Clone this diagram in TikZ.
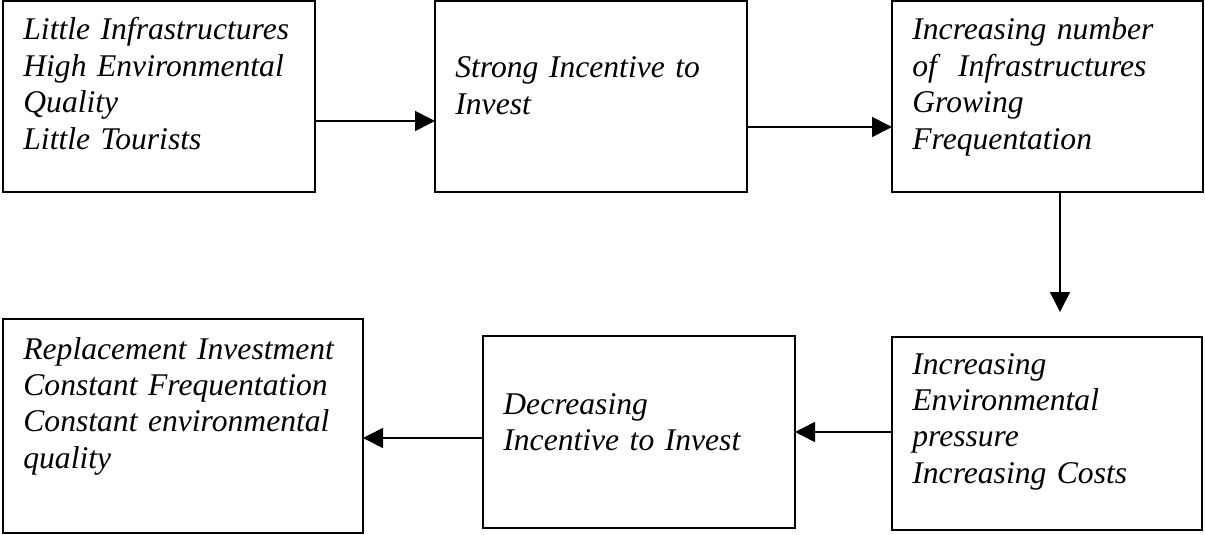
\documentclass[tikz,border=0pt]{standalone}
\usepackage{fontspec}
\setmainfont{Liberation Serif}
\usetikzlibrary{arrows.meta}
\begin{document}
\begin{tikzpicture}[x=0.5pt,y=-0.5pt,
  box/.style={draw,line width=0.8pt,inner sep=0pt,outer sep=0pt,rectangle},
  txt/.style={anchor=base west,inner sep=0pt,align=left,text width=178pt,
    font=\fontsize{15.8pt}{18.2pt}\selectfont\itshape},
  arr/.style={line width=0.8pt,-{Triangle[length=10pt,width=10pt]}}]
\useasboundingbox (0,0) rectangle (1205,535);
% boxes
\node[box,minimum width=156pt,minimum height=95.5pt] (b1) at (159,96.5) {};
\node[box,minimum width=156pt,minimum height=95.5pt] (b2) at (591,96.5) {};
\node[box,minimum width=155.5pt,minimum height=95.5pt] (b3) at (1047.5,96.5) {};
\node[box,minimum width=155pt,minimum height=96.5pt] (b4) at (1047,433.5) {};
\node[box,minimum width=156pt,minimum height=96pt] (b5) at (639,432) {};
\node[box,minimum width=180pt,minimum height=107pt] (b6) at (183,426) {};
% texts
\node[txt] (t1) at (23,40) {Little Infrastructures\\High Environmental\\Quality\\Little Tourists};
\node[txt] (t2) at (455,78) {Strong Incentive to\\Invest};
\node[txt] (t3) at (912,40) {Increasing number\\of\ \ Infrastructures\\Growing\\Frequentation};
\node[txt] (t4) at (912,374) {Increasing\\Environmental\\pressure\\Increasing Costs};
\node[txt] (t5) at (503,414) {Decreasing\\Incentive to Invest};
\node[txt] (t6) at (23,359) {Replacement Investment\\Constant Frequentation\\Constant environmental\\quality};
% connectors
\coordinate (a3end) at (1060,312);
\draw[arr] (b1.east |- 0,121) -- (b2.west |- 0,121);
\draw[arr] (b2.east |- 0,127) -- (b3.west |- 0,127);
\draw[arr] (b3.south -| a3end) -- (a3end);
\draw[arr] (b4.west |- 0,432) -- (b5.east |- 0,432);
\draw[arr] (b5.west |- 0,438) -- (b6.east |- 0,438);
\end{tikzpicture}
\end{document}
